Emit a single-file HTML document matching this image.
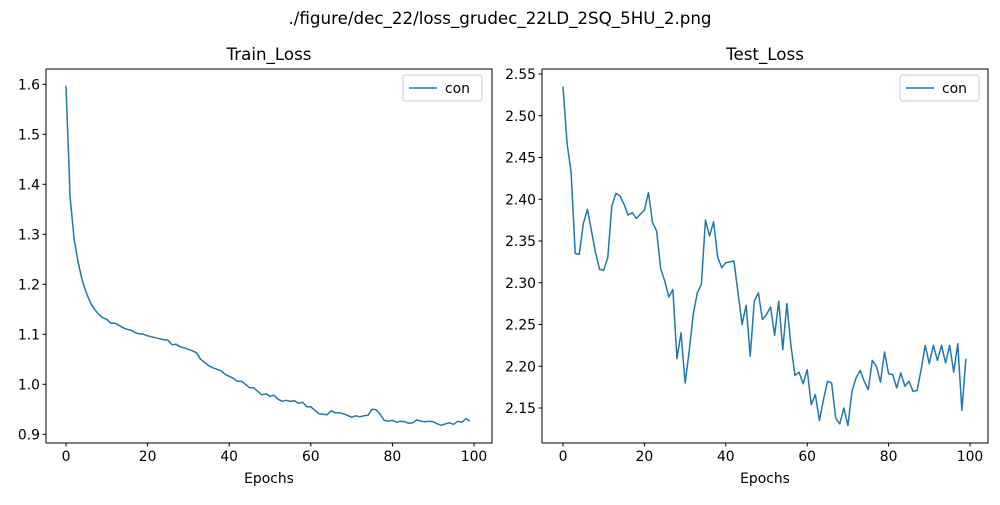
<!DOCTYPE html>
<html><head><meta charset="utf-8"><style>
body{margin:0;background:#fff}
svg text{font-family:"DejaVu Sans","Liberation Sans",sans-serif;fill:#000}
</style></head><body>
<svg id="fig" width="1000" height="500" viewBox="0 0 1000 500" xmlns="http://www.w3.org/2000/svg">
<rect width="1000" height="500" fill="#fff"/>
<text x="500" y="24" font-size="16.7" text-anchor="middle">./figure/dec_22/loss_grudec_22LD_2SQ_5HU_2.png</text>
</svg>
<script>
const trainLoss=[1.597,1.375,1.29,1.243,1.207,1.183,1.163,1.150,1.140,1.133,1.130,1.122,1.122,1.118,1.113,1.110,1.108,1.103,1.101,1.100,1.097,1.095,1.093,1.091,1.089,1.088,1.079,1.080,1.075,1.073,1.070,1.067,1.063,1.050,1.044,1.037,1.033,1.030,1.027,1.020,1.016,1.012,1.006,1.006,1.000,0.993,0.993,0.986,0.979,0.981,0.976,0.978,0.970,0.966,0.968,0.966,0.967,0.962,0.964,0.955,0.955,0.948,0.941,0.940,0.939,0.947,0.943,0.943,0.941,0.938,0.934,0.937,0.935,0.937,0.938,0.950,0.949,0.940,0.928,0.926,0.928,0.924,0.926,0.925,0.922,0.923,0.929,0.926,0.925,0.926,0.925,0.921,0.918,0.921,0.923,0.920,0.926,0.924,0.931,0.927];
const testLoss=[2.535,2.467,2.432,2.335,2.334,2.371,2.388,2.362,2.336,2.316,2.315,2.330,2.392,2.407,2.404,2.394,2.381,2.384,2.377,2.382,2.387,2.408,2.372,2.362,2.317,2.302,2.283,2.292,2.209,2.240,2.180,2.218,2.262,2.288,2.298,2.375,2.356,2.373,2.331,2.318,2.324,2.325,2.326,2.288,2.250,2.273,2.212,2.278,2.288,2.256,2.262,2.271,2.237,2.278,2.220,2.275,2.225,2.189,2.193,2.179,2.196,2.154,2.166,2.135,2.160,2.182,2.180,2.138,2.131,2.150,2.129,2.170,2.186,2.195,2.182,2.172,2.207,2.200,2.181,2.217,2.191,2.190,2.174,2.192,2.176,2.182,2.170,2.171,2.196,2.225,2.203,2.225,2.207,2.225,2.204,2.225,2.193,2.227,2.147,2.209];
const xTicks=[0,20,40,60,80,100];
const trainYTicks=[0.9,1.0,1.1,1.2,1.3,1.4,1.5,1.6];
const testYTicks=[2.15,2.20,2.25,2.30,2.35,2.40,2.45,2.50,2.55];
const NS="http://www.w3.org/2000/svg";
const svg=document.getElementById('fig');
function mk(tag,attrs,parent){const e=document.createElementNS(NS,tag);for(const k in attrs)e.setAttribute(k,attrs[k]);(parent||svg).appendChild(e);return e;}
function panel(name,left,right,top,bottom,x0px,x100px,yv1,ypx1,yv2,ypx2,data,yTicks,dec,title,legX){
  const g=mk('g',{});
  
  
  const xs=v=>x0px+(x100px-x0px)*v/100;
  const ys=v=>ypx1+(v-yv1)*(ypx2-ypx1)/(yv2-yv1);
  const pts=data.map((v,i)=>xs(i).toFixed(2)+','+ys(v).toFixed(2)).join(' ');
  const line=mk('polyline',{points:pts,fill:'none',stroke:'#1f77b4','stroke-width':1.5,'stroke-linejoin':'round'},g);
  
  
  const fr=mk('rect',{x:left,y:top,width:right-left,height:bottom-top,fill:'none',stroke:'#000','stroke-width':1},g);
  
  
  xTicks.forEach(t=>{const x=xs(t);
    mk('line',{x1:x,x2:x,y1:bottom,y2:bottom+3.5,stroke:'#000'},g);
    const tx=mk('text',{x:x,y:bottom+18,'font-size':13.9,'text-anchor':'middle'},g);tx.textContent=t;
    
    });
  yTicks.forEach(t=>{const y=ys(t);
    mk('line',{x1:left-3.5,x2:left,y1:y,y2:y,stroke:'#000'},g);
    const tx=mk('text',{x:left-6,y:y+5,'font-size':13.9,'text-anchor':'end'},g);tx.textContent=t.toFixed(dec);
    
    });
  const tt=mk('text',{x:(left+right)/2,y:top-9,'font-size':16.7,'text-anchor':'middle'},g);tt.textContent=title;
  
  
  const xl=mk('text',{x:(left+right)/2,y:483,'font-size':13.9,'text-anchor':'middle'},g);xl.textContent='Epochs';
  
  
  const lg=mk('g',{},g);
  
  
  mk('rect',{x:legX,y:top+6,width:79,height:26,rx:3,fill:'#fff',stroke:'#ccc'},lg);
  mk('line',{x1:legX+6,x2:legX+34,y1:top+19,y2:top+19,stroke:'#1f77b4','stroke-width':1.5},lg);
  const lt=mk('text',{x:legX+42,y:top+24,'font-size':13.9},lg);lt.textContent='con';
}
panel('train-loss',46,492,69,443,66,474,0.9,434.3,1.6,84.3,trainLoss,trainYTicks,1,'Train_Loss',403);
panel('test-loss',542,988,69,443,563,970,2.15,408,2.55,74,testLoss,testYTicks,2,'Test_Loss',900);
</script>
</body></html>
